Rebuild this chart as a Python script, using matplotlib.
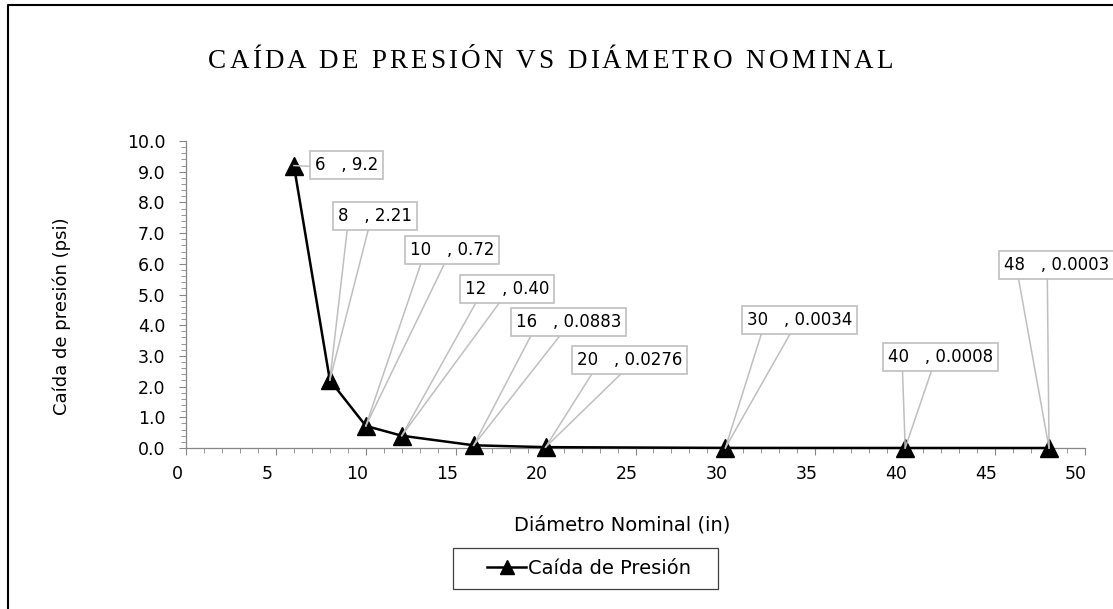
import matplotlib
matplotlib.use("Agg")
from matplotlib import pyplot as plt
from matplotlib.lines import Line2D
from matplotlib.patches import Rectangle
from matplotlib.font_manager import FontProperties
from matplotlib.ticker import MultipleLocator, FormatStrFormatter
from matplotlib.transforms import offset_copy, ScaledTranslation

# datos: diámetro nominal (in) y caída de presión (psi)
diametro = [6, 8, 10, 12, 16, 20, 30, 40, 48]
caida = [9.2, 2.21, 0.72, 0.40, 0.0883, 0.0276, 0.0034, 0.0008, 0.0003]
decimales = [1, 2, 2, 2, 4, 4, 4, 4, 4]

# posicion de cada etiqueta (esquina inferior izquierda, en unidades de datos)
pos_etiqueta = [(6.9, 8.77), (8.18, 7.11), (12.18, 6.01), (15.24, 4.74),
                (18.08, 3.64), (21.47, 2.40), (30.92, 3.73), (38.77, 2.50),
                (45.22, 5.52)]

titulo = u'CAÍDA DE PRESIÓN VS DIÁMETRO NOMINAL'

W, H = 1113, 609
fig = plt.figure(figsize=(W / 100, H / 100), dpi=100)
ax = fig.add_axes([186 / W, 1 - 448 / H, (1085 - 186) / W, (448 - 141) / H])

ax.plot(diametro, caida, color='black', lw=1.8, marker='^', ms=13,
        label=u'Caída de Presión', zorder=3, clip_on=False)

ax.set_xlim(0, 50)
ax.set_ylim(0, 10)
ax.xaxis.set_major_locator(MultipleLocator(5))
ax.xaxis.set_minor_locator(MultipleLocator(1))
ax.yaxis.set_major_locator(MultipleLocator(1))
ax.yaxis.set_minor_locator(MultipleLocator(0.2))
ax.yaxis.set_major_formatter(FormatStrFormatter('%.1f'))
for s in ['top', 'right']:
    ax.spines[s].set_visible(False)
for s in ['left', 'bottom']:
    ax.spines[s].set_color('#868686')
    ax.spines[s].set_linewidth(0.9)
ax.tick_params(which='both', direction='out', color='#868686', labelsize=12.5,
               labelcolor='black')
ax.tick_params(which='major', length=5)
ax.tick_params(which='minor', length=3.5)
ax.tick_params(axis='x', pad=7)
ax.tick_params(axis='y', pad=10)
# los numeros del eje x van un poco corridos a la izquierda
corrimiento = ScaledTranslation(-9 / 100, 0, fig.dpi_scale_trans)
for lab in ax.get_xticklabels():
    lab.set_transform(lab.get_transform() + corrimiento)

# etiquetas de datos con dos lineas guia
pad = 3.5
trans = offset_copy(ax.transData, fig=fig, x=pad, y=pad, units='points')
textos = []
for xv, yv, d, (tx, ty) in zip(diametro, caida, decimales, pos_etiqueta):
    t = ax.text(tx, ty, '%d   , %.*f' % (xv, d, yv), transform=trans,
                ha='left', va='bottom', fontsize=12, zorder=5, clip_on=False,
                bbox=dict(boxstyle='square,pad=0.3', fc='white',
                          ec='#bfbfbf', lw=1.2))
    textos.append(t)

fig.canvas.draw()
inv = ax.transData.inverted()
for t, xv, yv in zip(textos, diametro, caida):
    bb = t.get_bbox_patch().get_window_extent()
    px, py = ax.transData.transform((xv, yv))
    if bb.y0 < py < bb.y1:
        inicios = [(bb.x0, bb.y0 + bb.height * 0.45)]
    else:
        inicios = [(bb.x0 + bb.width * 0.17, bb.y0),
                   (bb.x0 + bb.width * 0.42, bb.y0)]
    for sx, sy in inicios:
        a = inv.transform((sx, sy))
        ax.plot([a[0], xv], [a[1], yv], color='#bfbfbf', lw=1.1, zorder=4,
                clip_on=False)

# titulo con espaciado entre letras
r = fig.canvas.get_renderer()
fp = FontProperties(family='Liberation Serif', size=19.5)


def ancho(s):
    return r.get_text_width_height_descent(s, fp, ismath=False)[0]


x0, x1 = 208.0, 893.0
track = (x1 - x0 - ancho(titulo)) / (len(titulo) - 1)
for i, c in enumerate(titulo):
    if c == ' ':
        continue
    xc = x0 + ancho(titulo[:i + 1]) - ancho(c) + i * track
    fig.text(xc / W, 1 - 68 / H, c, ha='left', va='baseline',
             fontproperties=fp)

fig.text(62 / W, 1 - 316 / H, u'Caída de presión (psi)', rotation=90,
         ha='center', va='center', fontsize=13)
fig.text(622 / W, 1 - 525 / H, u'Diámetro Nominal (in)', ha='center',
         va='center', fontsize=14)

fig.legend(loc='center', bbox_to_anchor=(589 / W, 1 - 568 / H), fontsize=14,
           frameon=False, handlelength=2.0, handletextpad=0.1,
           markerscale=0.8)
fig.add_artist(Rectangle((453 / W, 1 - 589 / H), 265 / W, 41 / H,
                         transform=fig.transFigure, fill=False,
                         ec='#404040', lw=0.9))

# marco exterior (lados izquierdo y superior)
fig.add_artist(Line2D([7.5 / W, 7.5 / W, 1.0], [0.0, 1 - 5 / H, 1 - 5 / H],
                      transform=fig.transFigure, color='black', lw=1.5))

fig.savefig('out.png', dpi=100)
